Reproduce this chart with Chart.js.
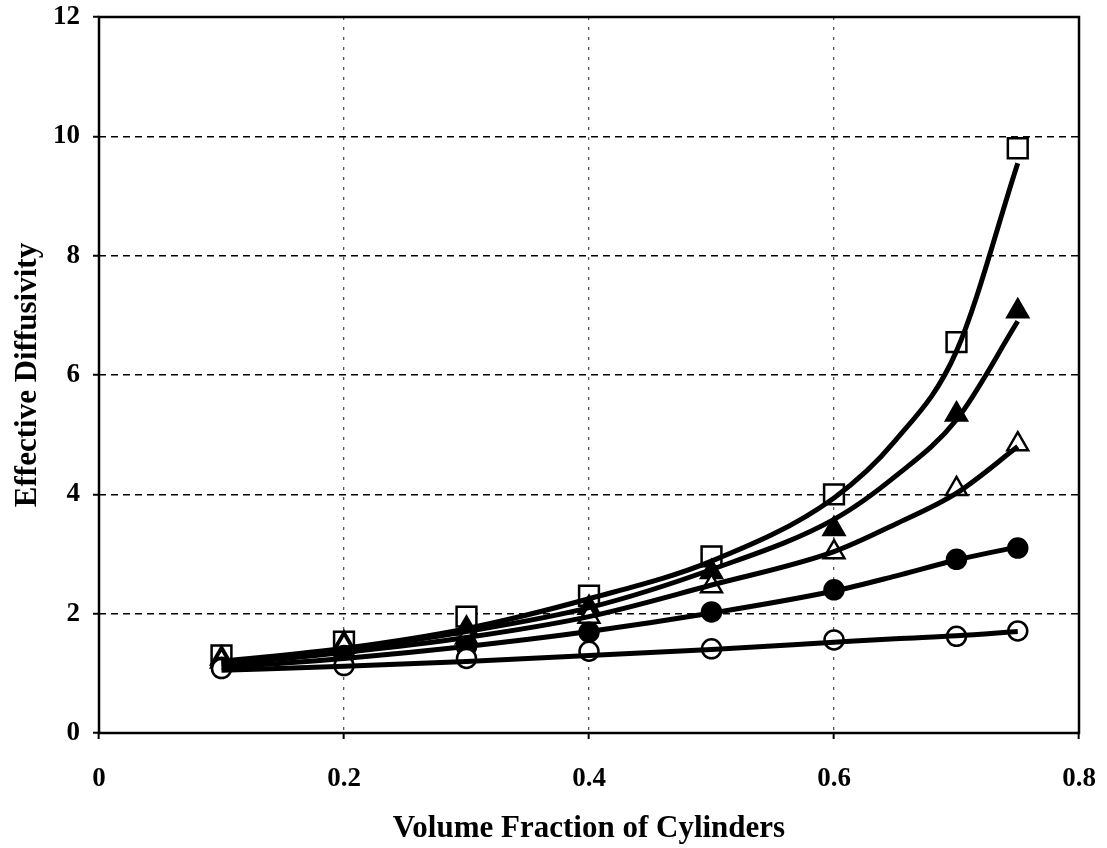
<!DOCTYPE html>
<html>
<head>
<meta charset="utf-8">
<script src="https://cdn.jsdelivr.net/npm/chart.js@4/dist/chart.umd.min.js"></script>
<style>
  html, body { margin: 0; padding: 0; background: #fff; }
  #wrap { width: 1107px; height: 848px; position: relative; }
</style>
</head>
<body>
<div id="wrap"><canvas id="c" width="1107" height="848"></canvas></div>
<script>
// ---- data ----
const markerX = [0.1, 0.2, 0.3, 0.4, 0.5, 0.6, 0.7, 0.75];
const openSquares     = [1.30, 1.53, 1.95, 2.30, 2.96, 4.00, 6.55, 9.80];
const filledTriangles = [1.25, 1.50, 1.75, 2.10, 2.70, 3.42, 5.34, 7.07];
const openTriangles   = [1.20, 1.45, 1.60, 1.95, 2.46, 3.03, 4.09, 4.84];
const filledCircles   = [1.10, 1.30, 1.45, 1.69, 2.03, 2.40, 2.91, 3.10];
const openCircles     = [1.08, 1.13, 1.25, 1.37, 1.41, 1.56, 1.62, 1.71];

const curveX = [0.1, 0.2, 0.3, 0.4, 0.5, 0.6, 0.65, 0.7, 0.75];
const squareCurve         = [1.20, 1.42, 1.75, 2.25, 2.88, 3.94, 4.90, 6.40, 9.55];
const filledTriangleCurve = [1.18, 1.40, 1.70, 2.10, 2.74, 3.58, 4.30, 5.25, 6.90];
const openTriangleCurve   = [1.15, 1.35, 1.60, 1.95, 2.48, 3.04, 3.50, 4.02, 4.80];
const filledCircleCurve   = [1.10, 1.25, 1.45, 1.70, 2.01, 2.38, 2.63, 2.90, 3.12];
const openCircleCurve     = [1.05, 1.12, 1.20, 1.30, 1.40, 1.52, 1.58, 1.63, 1.70];

const xTickLabels = ['0', '0.2', '0.4', '0.6', '0.8'];
const yTickLabels = ['0', '2', '4', '6', '8', '10', '12'];
const xTitle = 'Volume Fraction of Cylinders';
const yTitle = 'Effective Diffusivity';

// ---- build datasets ----
const pts = (xs, ys) => xs.map((x, i) => ({ x: x, y: ys[i] }));

function curve(ys) {
  return {
    data: pts(curveX, ys), showLine: true, pointRadius: 0, pointHoverRadius: 0,
    borderColor: '#000', borderWidth: 5, cubicInterpolationMode: 'monotone',
    order: 0
  };
}
function markers(ys, style, filled, radius) {
  return {
    data: pts(markerX, ys), showLine: false, pointStyle: style, pointRadius: radius,
    pointBackgroundColor: filled ? '#000' : '#fff', pointBorderColor: '#000',
    pointBorderWidth: 2.5, order: 1
  };
}

const datasets = [
  curve(squareCurve), curve(filledTriangleCurve), curve(openTriangleCurve),
  curve(filledCircleCurve), curve(openCircleCurve),
  markers(openCircles, 'circle', false, 9.5),
  markers(filledCircles, 'circle', true, 9.5),
  markers(openTriangles, 'triangle', false, 12),
  markers(filledTriangles, 'triangle', true, 12),
  markers(openSquares, 'rect', false, 14)
];

const frame = {
  id: 'frame',
  afterDraw(chart) {
    const a = chart.chartArea, ctx = chart.ctx;
    ctx.save();
    ctx.strokeStyle = '#000';
    ctx.lineWidth = 2.5;
    ctx.setLineDash([]);
    ctx.strokeRect(a.left, a.top, a.right - a.left, a.bottom - a.top);
    ctx.restore();
  }
};

const fontFam = '"Liberation Serif", "Times New Roman", serif';
const noPad = (s) => { s.paddingLeft = 0; s.paddingRight = 0; s.paddingTop = 0; s.paddingBottom = 0; };

new Chart(document.getElementById('c'), {
  type: 'scatter',
  data: { datasets },
  plugins: [frame],
  options: {
    responsive: false,
    animation: false,
    events: [],
    layout: { padding: { left: 0, right: 28, top: 17, bottom: 0 } },
    plugins: { legend: { display: false }, tooltip: { enabled: false } },
    scales: {
      x: {
        type: 'linear', min: 0, max: 0.8,
        afterFit(s) { s.height = 115; noPad(s); },
        ticks: {
          stepSize: 0.2, padding: 24, color: '#000',
          font: { family: fontFam, size: 27, weight: 'bold' },
          callback: (v, i) => xTickLabels[i]
        },
        grid: {
          color: (c) => (c.index === 0 || c.index === 4) ? 'rgba(0,0,0,0)' : '#555',
          lineWidth: 1.3,
          drawTicks: true, tickLength: 6, tickColor: '#000', tickWidth: 2, tickBorderDash: [0, 0]
        },
        border: { display: false, color: '#000', width: 2, dash: [3, 7] },
        title: {
          display: true, text: xTitle, color: '#000',
          font: { family: fontFam, size: 31, weight: 'bold' },
          padding: { top: 0, bottom: 0 }
        }
      },
      y: {
        type: 'linear', min: 0, max: 12,
        afterFit(s) { s.width = 99; noPad(s); },
        ticks: {
          stepSize: 2, padding: 13, color: '#000',
          font: { family: fontFam, size: 27, weight: 'bold' },
          callback: (v, i) => yTickLabels[i]
        },
        grid: {
          color: (c) => (c.index === 0 || c.index === 6) ? 'rgba(0,0,0,0)' : '#000',
          lineWidth: 1.5,
          drawTicks: true, tickLength: 6, tickColor: '#000', tickWidth: 2, tickBorderDash: [0, 0]
        },
        border: { display: false, color: '#000', width: 2, dash: [7, 5] },
        title: {
          display: true, text: yTitle, color: '#000',
          font: { family: fontFam, size: 31, weight: 'bold' },
          padding: { top: 9, bottom: 0 }
        }
      }
    }
  }
});
</script>
</body>
</html>
